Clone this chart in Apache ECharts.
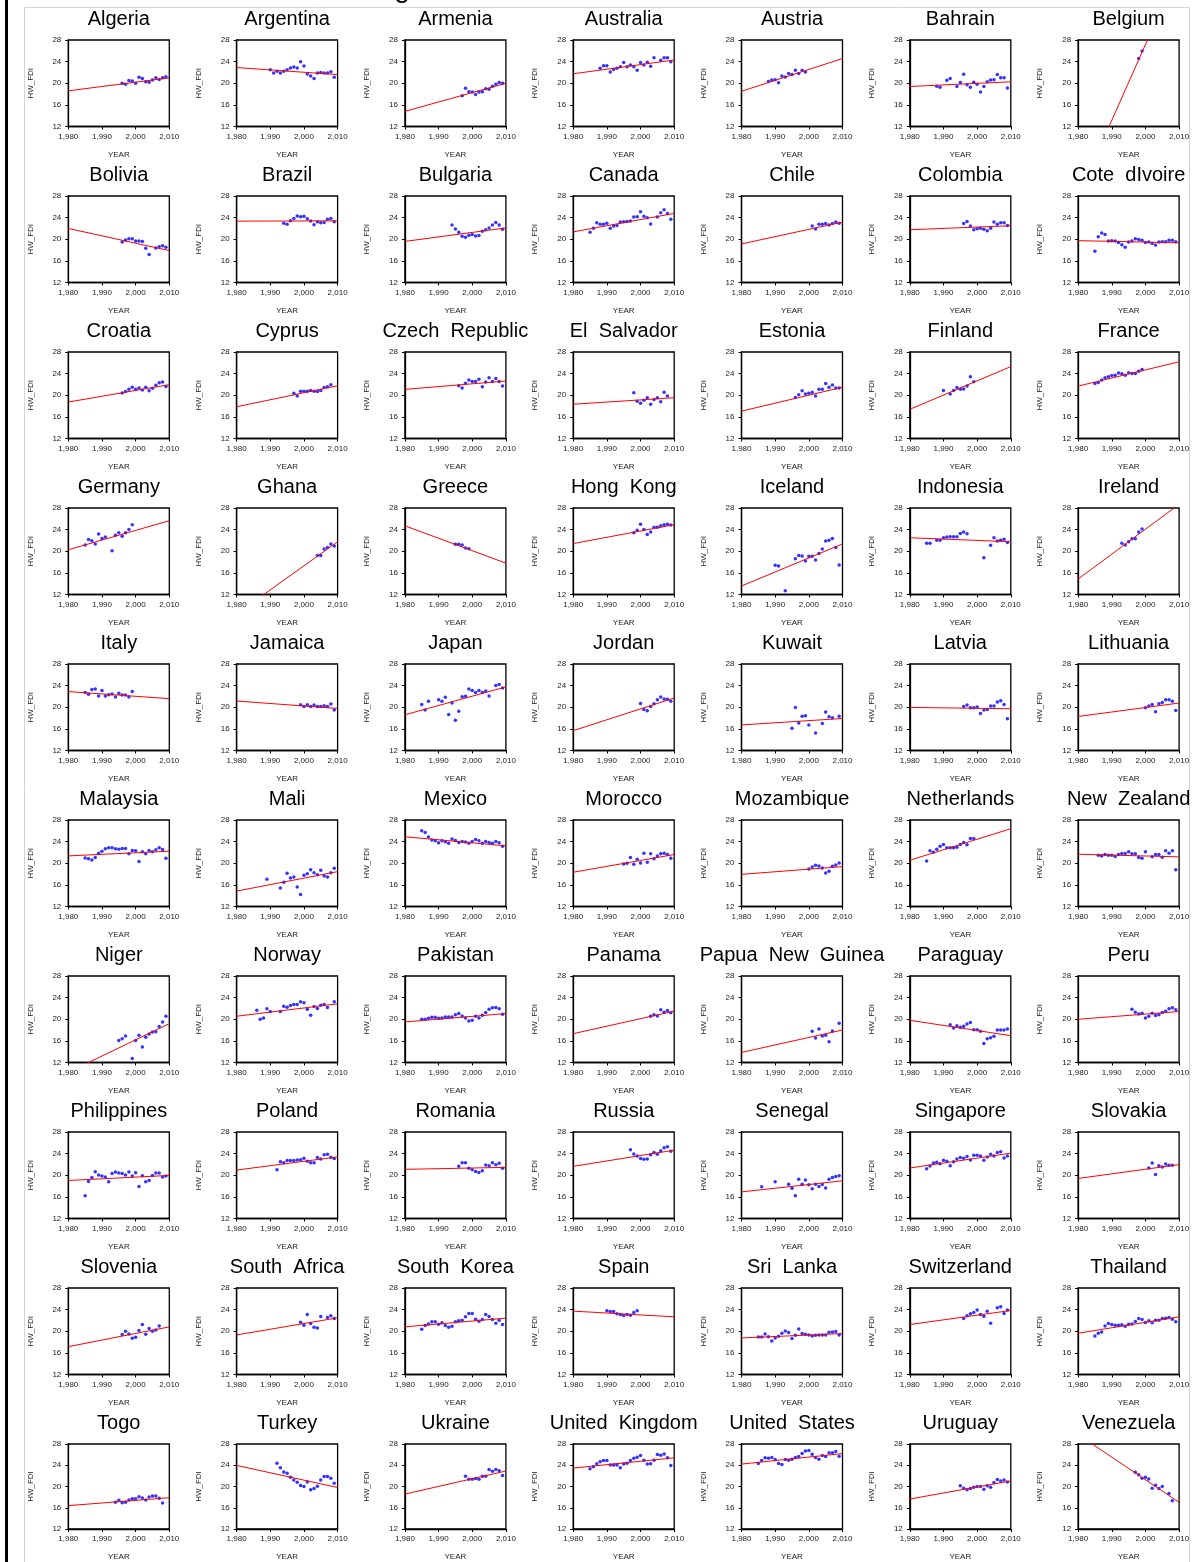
<!DOCTYPE html>
<html>
<head>
<meta charset="utf-8">
<script src="https://cdn.jsdelivr.net/npm/echarts@6/dist/echarts.min.js"></script>
<style>
html,body{margin:0;padding:0;background:#fff;}
#chart{width:1201px;height:1562px;}
</style>
</head>
<body>
<div id="chart"></div>
<script>
const countries = [
 "Algeria","Argentina","Armenia","Australia","Austria","Bahrain","Belgium",
 "Bolivia","Brazil","Bulgaria","Canada","Chile","Colombia","Cote dIvoire",
 "Croatia","Cyprus","Czech Republic","El Salvador","Estonia","Finland","France",
 "Germany","Ghana","Greece","Hong Kong","Iceland","Indonesia","Ireland",
 "Italy","Jamaica","Japan","Jordan","Kuwait","Latvia","Lithuania",
 "Malaysia","Mali","Mexico","Morocco","Mozambique","Netherlands","New Zealand",
 "Niger","Norway","Pakistan","Panama","Papua New Guinea","Paraguay","Peru",
 "Philippines","Poland","Romania","Russia","Senegal","Singapore","Slovakia",
 "Slovenia","South Africa","South Korea","Spain","Sri Lanka","Switzerland","Thailand",
 "Togo","Turkey","Ukraine","United Kingdom","United States","Uruguay","Venezuela"
];

// first year of each country's HW_FDI series (null = year missing)
const startYear = [
 1996,1990,1997,1988,1988,1988,1998,
 1996,1994,1994,1985,2001,1996,1985,
 1996,1997,1996,1998,1996,1990,1985,
 1985,2004,1995,1998,1990,1985,1993,
 1985,1999,1985,2000,1995,1996,2000,
 1985,1989,1985,1995,2000,1985,1986,
 1995,1986,1985,2003,2001,1992,1996,
 1985,1992,1996,1997,1986,1985,2001,
 1996,1999,1985,1990,1985,1996,1985,
 1994,1992,1998,1985,1985,1995,1997
];

const hwFdi = [
 [20.0,19.8,20.5,20.4,20.0,21.1,20.9,20.3,20.2,20.6,21.0,20.7,21.0,21.2],
 [22.5,21.9,22.2,21.9,22.2,22.5,22.8,23.0,22.8,24.0,23.2,21.7,21.35,20.9,21.9,22.0,21.9,21.9,22.15,21.1],
 [17.7,19.06,18.45,18.4,17.9,18.4,18.45,19.0,18.9,19.46,19.8,20.13,20.0],
 [22.76,23.23,23.23,22.08,22.55,22.76,23.03,23.83,23.03,23.36,23.03,22.42,23.83,23.36,23.9,23.16,24.7,null,24.24,24.7,24.7,23.97],
 [20.34,20.6,20.67,20.07,21.34,21.14,21.82,21.61,22.42,21.82,22.42,22.08],
 [19.46,19.26,null,20.54,20.87,null,19.39,20.13,21.68,19.73,19.26,20.2,19.8,18.39,19.39,20.27,20.6,20.67,21.6,21.0,21.0,19.13],
 [24.57,25.98],
 [19.48,19.88,20.08,20.08,19.68,19.68,19.6,18.34,17.2,null,18.4,18.6,18.8,18.54],
 [22.97,22.77,23.44,23.84,24.3,24.17,24.24,23.77,23.37,22.7,23.23,23.03,23.1,23.7,23.84,23.23],
 [22.63,21.9,21.3,20.55,20.35,20.75,20.9,20.6,20.7,21.5,21.76,22.1,22.63,23.1,22.63,21.83],
 [21.29,22.03,23.03,22.77,22.77,22.97,22.03,22.43,22.56,23.17,23.23,23.3,23.37,24.1,24.17,25.1,24.24,23.97,22.83,null,24.1,24.91,25.45,24.78,23.7],
 [22.43,21.9,22.77,22.77,22.9,22.63,22.9,23.17,22.97],
 [22.9,23.3,22.43,21.76,21.96,22.03,21.83,21.56,22.03,23.17,22.77,23.03,23.03,22.56],
 [17.8,20.48,21.15,20.89,19.68,19.74,19.68,19.41,19.0,18.54,19.48,19.68,20.08,19.95,19.81,19.41,19.48,19.2,18.94,19.48,19.54,19.54,19.81,19.81,19.54],
 [20.42,20.68,21.09,21.49,21.09,21.36,20.95,21.49,20.82,21.29,21.83,22.3,22.43,21.62],
 [20.35,19.88,20.75,20.75,20.75,20.89,20.75,20.68,20.89,21.42,21.56,21.96],
 [21.76,21.36,22.23,22.83,22.56,22.56,22.97,21.56,22.43,23.23,22.56,23.1,22.56,21.69],
 [20.48,18.87,18.54,19.07,19.54,18.34,19.2,19.54,18.8,20.55,19.88],
 [19.6,20.08,20.82,20.21,20.35,20.55,19.88,21.09,21.09,22.16,21.49,21.89,21.36,21.36],
 [20.89,null,20.21,20.89,21.42,21.09,21.16,21.69,23.44,22.5],
 [22.16,22.36,22.83,23.23,23.44,23.64,23.7,24.1,23.97,23.7,24.17,24.04,24.04,24.44,24.78],
 [21.15,22.16,21.96,21.36,23.17,22.36,22.63,null,20.08,22.97,23.44,22.77,23.44,24.04,24.91],
 [19.2,19.2,20.42,20.68,21.36,20.95],
 [21.29,21.29,21.15,20.62,20.48],
 [23.44,23.9,24.98,24.04,23.1,23.57,24.44,24.44,24.71,24.91,24.98,24.85],
 [17.4,17.26,null,12.7,null,null,18.6,19.2,19.14,18.2,19.07,19.07,18.4,19.6,20.42,21.9,22.03,22.36,20.68,17.46],
 [21.49,21.49,null,22.03,22.03,22.5,22.63,22.7,22.7,22.7,23.3,23.57,23.24,null,null,null,null,18.8,null,21.09,22.5,21.9,22.03,22.23,21.62],
 [21.49,21.15,21.76,22.3,22.3,23.57,24.1],
 [22.71,22.4,23.27,23.39,22.08,23.08,22.08,22.33,22.46,21.9,22.58,22.27,22.27,21.9,22.9],
 [20.47,20.15,20.47,20.15,20.4,20.15,20.15,20.28,20.15,20.59,19.47],
 [20.53,19.47,21.09,null,null,21.4,21.09,21.84,18.66,20.78,17.6,19.28,21.96,22.02,23.39,23.08,22.71,23.08,22.71,23.02,22.08,null,24.01,24.2,23.58],
 [20.71,19.59,19.35,20.15,20.65,21.4,21.9,21.52,21.46,21.09],
 [16.11,19.97,17.1,18.35,18.41,16.73,null,15.24,null,16.98,19.1,18.23,18.04,null,18.35],
 [20.15,20.4,19.9,19.9,20.03,18.85,19.47,19.59,20.22,20.22,20.96,21.21,20.53,17.85],
 [19.91,20.22,20.53,19.16,20.65,20.9,21.4,21.4,21.09,19.41],
 [20.99,20.81,20.62,21.05,21.86,22.23,22.67,22.85,22.85,22.67,22.6,22.73,22.73,21.74,22.36,22.3,20.31,22.11,21.74,22.36,22.11,22.48,22.85,22.54,20.93],
 [17.02,null,null,null,15.41,16.47,18.14,17.27,17.46,15.6,14.23,17.77,18.08,18.82,18.26,17.89,18.7,17.64,17.46,18.26,19.07],
 [26.02,25.71,24.84,24.28,24.16,23.78,24.16,23.97,23.72,24.47,24.22,23.84,24.03,23.91,23.72,24.03,24.4,24.16,23.72,24.03,23.84,23.72,24.03,23.78,23.16],
 [19.88,20.0,21.05,19.81,20.74,20.06,21.86,20.19,21.74,20.81,21.36,21.74,21.86,21.61,20.93],
 [18.95,19.32,19.63,19.5,19.13,18.2,18.51,19.44,19.69,20.06],
 [20.43,22.29,22.05,22.6,23.16,23.47,22.85,22.85,22.85,22.98,23.47,23.84,23.41,24.59,24.59],
 [21.49,21.36,21.61,21.49,21.49,21.24,21.61,21.8,21.8,22.11,21.74,21.74,21.05,20.93,22.11,null,21.18,21.61,21.61,21.12,22.29,21.86,22.29,18.82],
 [16.09,16.4,16.9,null,12.74,16.09,17.02,14.85,16.65,17.27,17.64,17.71,18.64,19.5,20.56],
 [21.67,19.99,20.24,21.92,21.43,null,null,21.43,22.42,22.23,22.54,22.73,22.73,23.22,23.04,21.86,20.74,22.36,21.98,22.6,22.73,22.17,null,23.22],
 [20.0,20.0,20.19,20.37,20.37,20.19,20.25,20.43,20.43,20.43,20.81,21.05,20.62,20.25,19.69,19.81,20.56,20.25,20.74,21.24,21.86,22.11,22.17,21.92,20.93],
 [20.56,20.81,20.62,21.74,21.3,21.61,21.18],
 [17.77,16.53,18.2,16.9,17.02,15.84,17.83,null,19.26],
 [19.0,18.39,18.82,18.51,18.7,19.13,19.38,18.08,18.08,17.77,15.53,16.4,16.59,16.84,18.02,18.02,18.02,18.2],
 [21.86,21.3,20.99,21.12,20.25,20.56,21.12,20.68,20.81,21.24,21.49,21.92,22.11,21.74],
 [16.23,18.85,19.59,20.65,20.03,19.84,19.66,18.78,20.34,20.59,20.4,20.34,20.03,20.59,19.84,20.47,17.91,19.91,18.78,19.03,19.97,20.4,20.4,19.66,19.84],
 [21.03,22.52,22.33,22.71,22.71,22.71,22.83,22.89,23.14,22.58,22.33,22.33,23.27,23.02,23.77,23.89,23.33,23.08],
 [21.65,22.33,22.33,21.28,21.03,20.71,20.53,20.84,21.9,21.77,22.33,21.96,22.21,21.28],
 [24.7,23.95,23.58,23.08,22.96,23.02,23.77,24.2,23.89,24.51,25.07,25.26,24.45],
 [17.86,null,null,null,18.78,null,null,null,18.35,17.6,16.23,19.28,18.35,19.1,18.23,17.48,18.35,17.91,18.29,17.66,19.28,19.59,19.78,19.9],
 [21.21,21.71,22.27,22.4,22.15,22.77,22.58,21.77,22.52,23.02,23.27,23.14,23.45,22.83,23.7,23.7,23.58,22.77,23.39,23.89,23.58,24.2,24.33,23.21,23.58],
 [21.34,22.27,20.15,21.77,21.52,22.08,21.84,21.84],
 [19.38,20.0,19.5,18.7,18.88,20.12,21.24,19.44,20.5,20.0,20.25,20.99],
 [21.67,21.12,23.1,21.43,20.74,20.62,22.73,null,22.54,22.85,22.36],
 [20.37,21.05,21.36,21.74,21.74,21.3,21.55,21.05,20.74,20.93,21.74,21.92,22.05,22.67,23.29,23.29,22.23,21.86,22.17,23.1,22.73,22.17,21.49,22.05,21.24],
 [23.78,23.66,23.66,23.22,23.1,22.91,23.1,22.98,23.47,23.78],
 [18.95,18.95,19.5,19.0,18.2,18.76,19.07,19.63,20.06,19.75,18.64,19.26,20.43,19.57,19.44,19.32,19.13,19.26,19.32,19.32,19.32,19.81,19.88,19.94,19.32],
 [22.36,22.85,23.22,23.47,23.91,23.1,22.79,23.72,21.49,null,24.34,24.53,23.29,23.91],
 [19.13,19.63,19.88,20.99,21.43,21.24,21.12,21.12,21.18,20.93,21.3,21.36,21.8,22.36,22.17,21.61,21.92,21.55,22.05,22.05,22.36,22.42,22.54,22.23,21.74],
 [17.02,17.4,16.96,17.02,17.46,17.71,17.71,18.08,17.83,17.46,18.02,18.2,18.2,17.77,16.9],
 [24.4,23.53,22.73,22.48,21.74,21.24,20.81,20.19,20.0,20.87,19.38,19.63,20.06,21.24,21.86,21.86,21.55,20.62],
 [21.92,21.36,21.36,21.49,21.36,21.92,21.92,23.22,22.85,23.22,22.98,22.05],
 [23.35,23.72,24.28,24.65,24.9,24.9,24.03,24.03,24.03,23.53,24.22,24.4,24.9,25.33,25.52,25.83,24.96,24.22,24.28,24.96,26.02,25.89,26.14,25.4,23.97],
 [24.34,24.9,25.4,25.33,25.46,25.09,24.34,24.15,25.09,24.96,25.15,25.46,25.64,26.2,26.7,26.76,26.08,25.46,25.15,25.83,25.64,26.33,26.33,26.57,25.71],
 [20.12,19.69,19.38,19.63,19.88,20.0,20.0,19.5,20.12,19.88,20.74,21.3,21.05,21.24,20.87],
 [22.67,22.23,21.55,21.74,21.43,19.69,20.25,19.63,20.0,null,18.7,17.33]
];

// fitted linear trend values read at 1980 and 2010
const fitAt1980 = [
 18.6,22.9,14.8,21.75,18.52,19.4,-0.9,
 22.0,23.35,19.6,21.36,19.14,21.76,19.74,
 18.74,17.87,21.09,18.34,17.06,17.4,21.69,
 20.28,8.4,24.71,21.42,13.57,22.5,14.85,
 22.9,21.15,18.6,15.67,16.73,19.97,18.29,
 21.36,14.85,24.9,18.33,17.95,20.56,21.67,
 10.2,20.56,19.5,17.33,13.86,19.81,20.0,
 19.03,20.96,21.09,21.65,16.92,21.34,19.41,
 17.15,19.32,20.81,23.72,18.76,21.24,19.63,
 16.4,23.97,18.57,23.47,24.22,17.64,29.79
];
const fitAt2010 = [
 21.0,21.6,20.0,24.3,24.57,20.27,41.2,
 17.9,23.4,22.1,24.78,23.17,22.5,19.34,
 21.96,21.76,22.63,19.54,21.49,25.3,26.19,
 25.65,21.76,17.8,24.91,21.36,21.76,28.69,
 21.59,19.78,23.77,21.71,17.92,19.72,20.78,
 22.23,18.45,23.22,21.61,19.38,26.39,21.18,
 19.19,22.85,21.05,21.49,18.02,16.96,21.43,
 19.97,23.39,21.46,24.64,18.97,24.08,21.96,
 20.81,22.48,22.42,22.67,19.57,23.84,22.67,
 17.89,19.81,22.91,25.4,26.2,21.05,17.02
];

const xTicks = [1980, 1990, 2000, 2010];
const yTicks = [12, 16, 20, 24, 28];

const FONT = "'Liberation Sans', Arial, sans-serif";
const COLS = 7;
const grids = [], xAxes = [], yAxes = [], series = [], graphics = [];

countries.forEach((name, i) => {
  const r = Math.floor(i / COLS), c = i % COLS;
  const left = 68.3 + 168.3 * c, top = 40 + 156 * r;
  const w = 101, h = 86.5;
  grids.push({left, top, width: w, height: h, show: true, borderColor: '#000', borderWidth: 1.3, backgroundColor: 'transparent'});
  xAxes.push({
    gridIndex: i, type: 'value',
    min: xTicks[0], max: xTicks[xTicks.length - 1], interval: xTicks[1] - xTicks[0],
    axisLine: {show: true, onZero: false, lineStyle: {color: '#000', width: 1.3}},
    axisTick: {show: true, length: 3, lineStyle: {color: '#000'}},
    axisLabel: {fontSize: 8, color: '#1a1a1a', margin: 6, fontFamily: FONT,
      formatter: v => v.toLocaleString('en-US')},
    splitLine: {show: false},
    name: 'YEAR', nameLocation: 'middle', nameGap: 24,
    nameTextStyle: {fontSize: 8, color: '#1a1a1a', fontFamily: FONT}
  });
  yAxes.push({
    gridIndex: i, type: 'value',
    min: yTicks[0], max: yTicks[yTicks.length - 1], interval: yTicks[1] - yTicks[0],
    axisLine: {show: true, onZero: false, lineStyle: {color: '#000', width: 1.3}},
    axisTick: {show: true, length: 3, lineStyle: {color: '#000'}},
    axisLabel: {fontSize: 8, color: '#1a1a1a', margin: 7, fontFamily: FONT},
    splitLine: {show: false},
    name: 'HW_FDI', nameLocation: 'middle', nameGap: 34, nameRotate: 90,
    nameTextStyle: {fontSize: 8, color: '#1a1a1a', fontFamily: FONT}
  });
  const pts = [];
  hwFdi[i].forEach((v, k) => { if (v !== null) pts.push([startYear[i] + k, v]); });
  series.push({
    type: 'scatter', xAxisIndex: i, yAxisIndex: i, data: pts,
    symbol: 'circle', symbolSize: 3.5, itemStyle: {color: '#0000ff'}, silent: true
  });
  series.push({
    type: 'line', xAxisIndex: i, yAxisIndex: i,
    data: [[xTicks[0], fitAt1980[i]], [xTicks[xTicks.length - 1], fitAt2010[i]]],
    showSymbol: false, symbol: 'none', clip: true, silent: true,
    lineStyle: {color: '#ff0000', width: 1}
  });
  graphics.push({
    type: 'text', x: left + w / 2, y: 19 + 156 * r, silent: true,
    style: {text: name.replace(/ /g, '  '), align: 'center', verticalAlign: 'middle',
      fontSize: 20, fontFamily: FONT, fill: '#000'}
  });
});

// page decorations
graphics.push({type: 'line', silent: true, shape: {x1: 6.5, y1: 0, x2: 6.5, y2: 1562}, style: {stroke: '#000', lineWidth: 3}});
graphics.push({type: 'polyline', silent: true, shape: {points: [[24.5, 1562], [24.5, 7.5], [1189.5, 7.5], [1189.5, 1562]]}, style: {stroke: '#d4d4d4', lineWidth: 1, fill: null}});
graphics.push({type: 'text', silent: true, x: 402, y: 3.3, style: {text: 'g', align: 'center', verticalAlign: 'bottom', fontSize: 28, fontFamily: FONT, fill: '#000'}});

const chart = echarts.init(document.getElementById('chart'), null, {renderer: 'canvas'});
chart.setOption({
  animation: false,
  backgroundColor: '#fff',
  grid: grids, xAxis: xAxes, yAxis: yAxes, series: series,
  graphic: {elements: graphics}
});
</script>
</body>
</html>
